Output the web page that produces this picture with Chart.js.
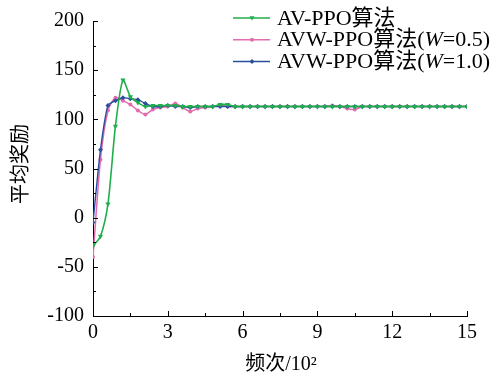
<!DOCTYPE html>
<html>
<head>
<meta charset="utf-8">
<script src="https://cdn.jsdelivr.net/npm/chart.js"></script>
<style>
  html, body { margin: 0; padding: 0; background: #fff; }
  #wrap { width: 499px; height: 378px; position: relative; }
</style>
</head>
<body>
<div id="wrap"><canvas id="rewardChart"></canvas></div>
<script>
// episodes (x 10^2)
const episodes = [0, 0.3, 0.6, 0.9, 1.2, 1.5, 1.8, 2.1, 2.4, 2.7, 3.0, 3.3, 3.6, 3.9, 4.2, 4.5, 4.8,
  5.1, 5.4, 5.7, 6.0, 6.3, 6.6, 6.9, 7.2, 7.5, 7.8, 8.1, 8.4, 8.7, 9.0, 9.3, 9.6, 9.9,
  10.2, 10.5, 10.8, 11.1, 11.4, 11.7, 12.0, 12.3, 12.6, 12.9, 13.2, 13.5, 13.8, 14.1, 14.4, 14.7, 15.0];

const avPpo = [-29, -19, 14, 93, 140, 123, 117, 113, 114, 114, 114, 114, 113, 113, 113, 113, 113,
  115, 115, 113, 113, 113, 113, 113, 113, 113, 113, 113, 113, 113, 113, 113, 113, 113,
  113, 113, 113, 113, 113, 113, 113, 113, 113, 113, 113, 113, 113, 113, 113, 113, 113];

const avwPpo05 = [-40, 59, 109, 122, 119, 115, 109, 105, 110, 112, 113, 116, 112, 108, 111, 112, 113,
  114, 113, 113, 113, 113, 113, 113, 113, 113, 113, 113, 113, 113, 113, 113, 114, 113,
  111, 110, 113, 113, 113, 113, 113, 113, 113, 113, 113, 113, 113, 113, 113, 113, 113];

const avwPpo10 = [-5, 69, 114, 119, 122, 121, 120, 116, 113, 113, 114, 113, 113, 112, 113, 113, 113,
  113, 113, 113, 113, 113, 113, 113, 113, 113, 113, 113, 113, 113, 113, 113, 113, 113,
  113, 113, 113, 113, 113, 113, 113, 113, 113, 113, 113, 113, 113, 113, 113, 113, 113];

const xTicks = [0, 3, 6, 9, 12, 15];
const yTicks = [-100, -50, 0, 50, 100, 150, 200];

const GREEN = "#1fae4b";
const PINK = "#e36cae";
const BLUE = "#2a4d9e";
const SERIF = "'Liberation Serif', 'Noto Sans CJK SC', serif";

function toPoints(ys) {
  return episodes.map((x, i) => ({ x: x, y: ys[i] }));
}

function drawMarker(ctx, style, x, y, r, color) {
  ctx.save();
  ctx.fillStyle = color;
  ctx.beginPath();
  if (style === "tri") {
    ctx.moveTo(x - r, y - r * 0.7);
    ctx.lineTo(x + r, y - r * 0.7);
    ctx.lineTo(x, y + r);
  } else if (style === "dia") {
    ctx.moveTo(x, y - r);
    ctx.lineTo(x + r, y);
    ctx.lineTo(x, y + r);
    ctx.lineTo(x - r, y);
  } else {
    ctx.arc(x, y, r, 0, Math.PI * 2);
  }
  ctx.closePath();
  ctx.fill();
  ctx.restore();
}

// inward ticks, axis titles and legend
const decorations = {
  id: "decorations",
  afterDraw(chart) {
    const { ctx, chartArea } = chart;
    const xs = chart.scales.x, ys = chart.scales.y;
    ctx.save();
    ctx.strokeStyle = "#000";
    ctx.lineWidth = 1;
    ctx.beginPath();
    for (let v = 0; v <= 15.001; v += 1.5) {
      const px = Math.round(xs.getPixelForValue(v)) + 0.5;
      const len = Math.abs(v % 3) < 0.01 ? 5 : 3;
      ctx.moveTo(px, chartArea.bottom);
      ctx.lineTo(px, chartArea.bottom - len);
    }
    for (let v = -100; v <= 200; v += 25) {
      const py = Math.round(ys.getPixelForValue(v)) + 0.5;
      const len = v % 50 === 0 ? 5 : 3;
      ctx.moveTo(chartArea.left, py);
      ctx.lineTo(chartArea.left + len, py);
    }
    ctx.stroke();

    // axis titles
    ctx.fillStyle = "#000";
    ctx.textAlign = "center";
    ctx.textBaseline = "middle";
    ctx.font = "20px " + SERIF;
    ctx.fillText("频次/10²", 281, 365);
    ctx.save();
    ctx.translate(22, 164);
    ctx.rotate(-Math.PI / 2);
    ctx.fillText("平均奖励", 0, 0);
    ctx.restore();

    // legend
    const rows = [
      { color: GREEN, marker: "tri", r: 2.5, parts: [["AV-PPO算法", ""]] },
      { color: PINK, marker: "dot", r: 2, parts: [["AVW-PPO算法(", ""], ["W", "italic "], ["=0.5)", ""]] },
      { color: BLUE, marker: "dia", r: 2.5, parts: [["AVW-PPO算法(", ""], ["W", "italic "], ["=1.0)", ""]] }
    ];
    ctx.textAlign = "left";
    rows.forEach((row, i) => {
      const y = 18 + i * 21.7;
      ctx.strokeStyle = row.color;
      ctx.lineWidth = 1.5;
      ctx.beginPath();
      ctx.moveTo(233, y);
      ctx.lineTo(270, y);
      ctx.stroke();
      drawMarker(ctx, row.marker, 252, y, row.r, row.color);
      let tx = 277;
      ctx.fillStyle = "#000";
      row.parts.forEach(([text, style]) => {
        ctx.font = style + "22px " + SERIF;
        ctx.fillText(text, tx, y + 1);
        tx += ctx.measureText(text).width;
      });
    });
    ctx.restore();
  }
};

const commonLine = { tension: 0.25, fill: false, pointBorderWidth: 0 };

new Chart(document.getElementById("rewardChart"), {
  type: "line",
  data: {
    datasets: [
      Object.assign({
        label: "AV-PPO算法", data: toPoints(avPpo), order: 0,
        borderColor: GREEN, backgroundColor: GREEN, borderWidth: 1.6,
        pointStyle: "triangle", rotation: 180, pointRadius: 3
      }, commonLine),
      Object.assign({
        label: "AVW-PPO算法(W=0.5)", data: toPoints(avwPpo05), order: 2,
        borderColor: PINK, backgroundColor: PINK, borderWidth: 1.5,
        pointStyle: "circle", pointRadius: 2
      }, commonLine),
      Object.assign({
        label: "AVW-PPO算法(W=1.0)", data: toPoints(avwPpo10), order: 1,
        borderColor: BLUE, backgroundColor: BLUE, borderWidth: 1.4,
        pointStyle: "rectRot", pointRadius: 2.5
      }, commonLine)
    ]
  },
  options: {
    responsive: true,
    maintainAspectRatio: false,
    animation: false,
    layout: { padding: { left: 0, right: 32, top: 17, bottom: 0 } },
    plugins: { legend: { display: false }, tooltip: { enabled: false } },
    scales: {
      x: {
        type: "linear", min: 0, max: 15,
        afterBuildTicks: (s) => { s.ticks = xTicks.map(v => ({ value: v })); },
        afterFit: (s) => { s.height = 62; },
        grid: { display: false, drawTicks: false },
        border: { display: true, color: "#000", width: 1 },
        ticks: { color: "#000", padding: 5, maxRotation: 0, font: { family: SERIF, size: 20 } }
      },
      y: {
        min: -100, max: 200,
        afterBuildTicks: (s) => { s.ticks = yTicks.map(v => ({ value: v })); },
        afterFit: (s) => { s.width = 93; },
        grid: { display: false, drawTicks: false },
        border: { display: true, color: "#000", width: 1 },
        ticks: { color: "#000", padding: 9, font: { family: SERIF, size: 20 } }
      }
    }
  },
  plugins: [decorations]
});
</script>
</body>
</html>
